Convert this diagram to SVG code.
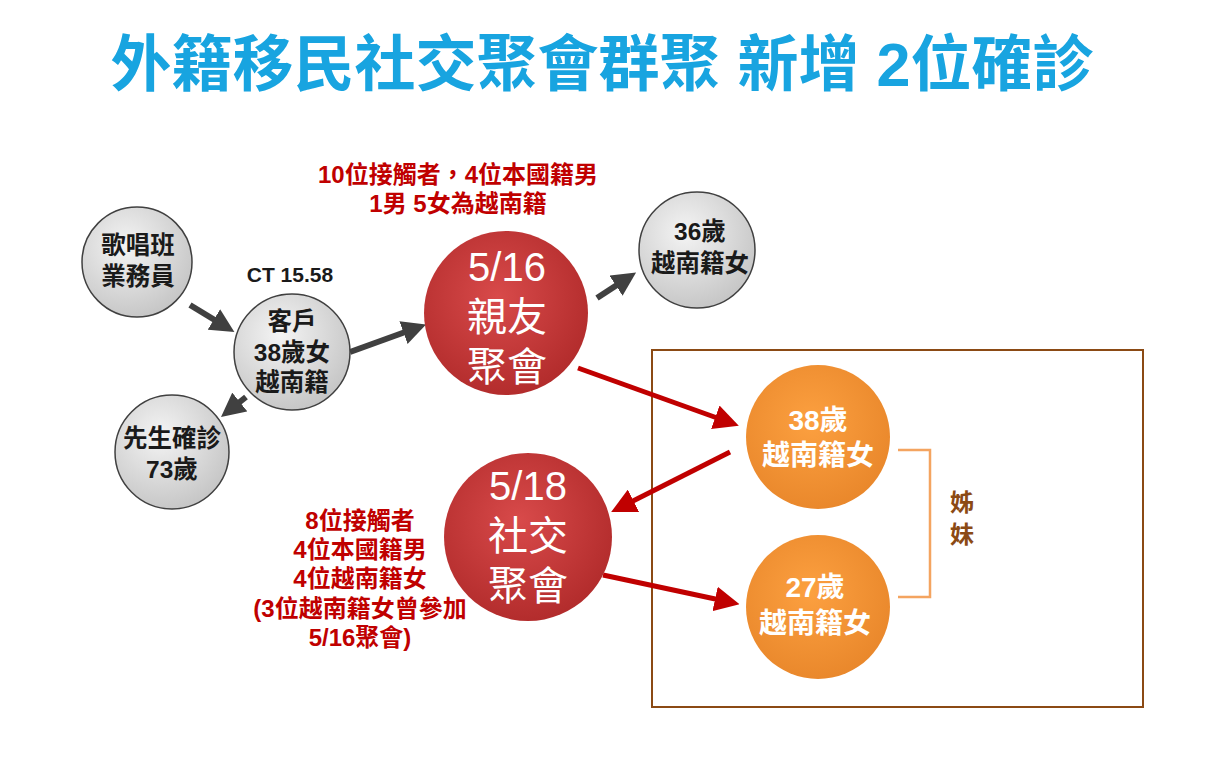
<svg xmlns="http://www.w3.org/2000/svg" width="1205" height="758" viewBox="0 0 1205 758">
<style>
text{font-family:"Liberation Sans","Noto Sans CJK TC",sans-serif;font-weight:bold;text-anchor:middle}
.g{fill:url(#gg);stroke:#404040;stroke-width:1.5}
.r{fill:url(#rg)}
.o{fill:url(#og)}
.k{fill:#1a1a1a;font-size:24.5px}
.w{fill:#fff;font-weight:normal;font-size:40px}
.wo{fill:#fff;font-size:28px}
.rt{fill:#C00000;font-size:24px}
.ga{stroke:#404040;stroke-width:6;fill:none;marker-end:url(#ag)}
.ra{stroke:#C00000;stroke-width:5;fill:none;marker-end:url(#ar)}
</style>
<defs>
<radialGradient id="gg" cx="0.4" cy="0.35" r="0.7"><stop offset="0" stop-color="#f4f4f4"/><stop offset="1" stop-color="#c4c4c4"/></radialGradient>
<radialGradient id="rg" cx="0.45" cy="0.4" r="0.65"><stop offset="0" stop-color="#d84a4a"/><stop offset="1" stop-color="#b02a2a"/></radialGradient>
<radialGradient id="og" cx="0.45" cy="0.4" r="0.65"><stop offset="0" stop-color="#fca040"/><stop offset="1" stop-color="#e8862a"/></radialGradient>
<marker id="ag" viewBox="0 0 10 10" refX="2" refY="5" markerWidth="4" markerHeight="4" orient="auto"><path d="M0,0L10,5L0,10z" fill="#404040"/></marker>
<marker id="ar" viewBox="0 0 10 10" refX="2" refY="5" markerWidth="5" markerHeight="5" orient="auto"><path d="M0,0L10,5L0,10z" fill="#C00000"/></marker>
</defs>
<rect width="1205" height="758" fill="#fff"/>
<text x="602" y="86" style="font-size:61px;fill:#18A4E0">外籍移民社交聚會群聚 新增 2位確診</text>
<rect x="652" y="350" width="491" height="357" fill="none" stroke="#8B4A14" stroke-width="2"/>
<g id="connectors">
<line class="ga" x1="190" y1="305" x2="218" y2="322"/>
<line class="ga" x1="350" y1="352" x2="408" y2="331"/>
<line class="ga" x1="246" y1="397" x2="236" y2="405"/>
<line class="ga" x1="597" y1="298" x2="620" y2="283"/>
<line class="ra" x1="578" y1="368" x2="720" y2="419"/>
<line class="ra" x1="730" y1="452" x2="629" y2="503"/>
<line class="ra" x1="603" y1="575" x2="720" y2="600"/>
<path d="M898,450H930V597H898" fill="none" stroke="#F4A460" stroke-width="2.5"/>
</g>
<g id="n1"><circle class="g" cx="137" cy="262" r="55"/><text class="k" x="138" y="254">歌唱班</text><text class="k" x="138" y="285">業務員</text></g>
<g id="n2"><text class="k" x="290" y="282" style="font-size:21px">CT 15.58</text><circle class="g" cx="292" cy="352" r="58"/><text class="k" x="292" y="330">客戶</text><text class="k" x="292" y="361">38歲女</text><text class="k" x="292" y="391">越南籍</text></g>
<g id="n3"><circle class="g" cx="172" cy="452" r="57"/><text class="k" x="172" y="447">先生確診</text><text class="k" x="172" y="478">73歲</text></g>
<g id="n4"><text class="rt" x="458" y="183">10位接觸者，4位本國籍男</text><text class="rt" x="458" y="212">1男 5女為越南籍</text><circle class="r" cx="506" cy="313" r="82"/><text class="w" x="507" y="281">5/16</text><text class="w" x="507" y="331">親友</text><text class="w" x="507" y="381">聚會</text></g>
<g id="n5"><circle class="g" cx="697" cy="250" r="58"/><text class="k" x="700" y="240">36歲</text><text class="k" x="700" y="272">越南籍女</text></g>
<g id="n6"><circle class="o" cx="818" cy="437" r="72"/><text class="wo" x="818" y="430">38歲</text><text class="wo" x="818" y="465">越南籍女</text></g>
<g id="n7"><text class="rt" x="360" y="529">8位接觸者</text><text class="rt" x="360" y="558">4位本國籍男</text><text class="rt" x="360" y="587">4位越南籍女</text><text class="rt" x="360" y="617">(3位越南籍女曾參加</text><text class="rt" x="360" y="646">5/16聚會)</text><circle class="r" cx="528" cy="537" r="84"/><text class="w" x="528" y="500">5/18</text><text class="w" x="528" y="550">社交</text><text class="w" x="528" y="600">聚會</text></g>
<g id="n8"><circle class="o" cx="818" cy="607" r="72"/><text class="wo" x="815" y="597">27歲</text><text class="wo" x="815" y="633">越南籍女</text></g>
<g id="sis"><text x="962" y="511" style="font-size:24px;fill:#8B4A14">姊</text><text x="962" y="543" style="font-size:24px;fill:#8B4A14">妹</text></g>
</svg>
